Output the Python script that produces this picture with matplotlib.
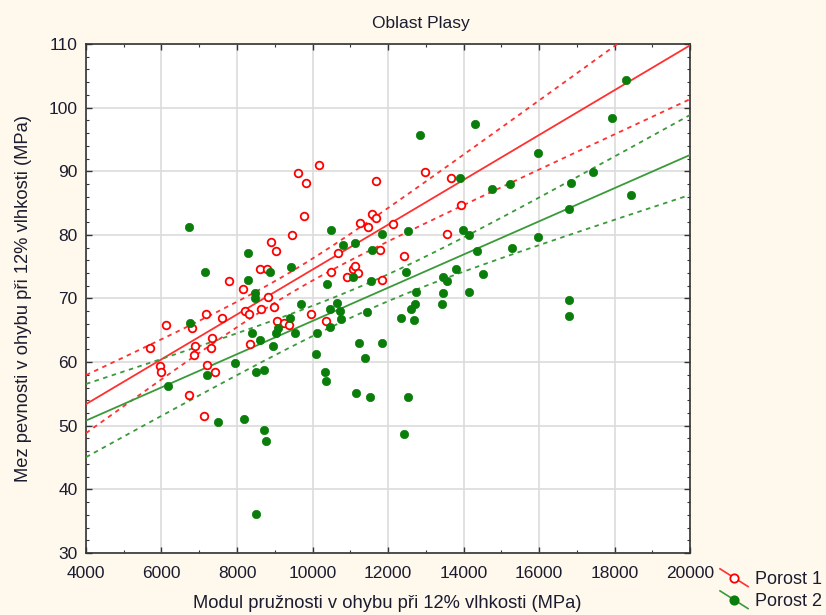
import numpy as np
import matplotlib
matplotlib.use("Agg")
import matplotlib.pyplot as plt
from matplotlib.lines import Line2D
from matplotlib.ticker import MultipleLocator

plt.rcParams['font.family'] = ['Liberation Sans', 'DejaVu Sans']

title = "Oblast Plasy"
xlabel = "Modul pružnosti v ohybu při 12% vlhkosti (MPa)"
ylabel = "Mez pevnosti v ohybu při 12% vlhkosti (MPa)"
series_names = ["Porost 1", "Porost 2"]

# Porost 1: modulus of elasticity (MPa), bending strength (MPa)
p1_x = [10162, 9608, 9837, 11674, 9766, 9449, 8895, 9027, 8605, 8790,
        7795, 10671, 10478, 11252, 11579, 11674, 11481, 11779, 11067, 11120,
        11209, 10901, 11843, 8156, 8808, 8209, 8322, 8631, 8982, 9053,
        9246, 9389, 9958, 10346, 8349, 7610, 7180, 6818, 6897, 6863,
        7338, 7312, 7206, 7409, 6116, 5694, 5958, 5984, 6723, 7119,
        12967, 13680, 13935, 12122, 13558, 12423]
p1_y = [91.0, 89.7, 88.1, 88.5, 83.0, 79.9, 78.9, 77.4, 74.7, 74.6,
        72.8, 77.2, 74.1, 81.8, 83.2, 82.6, 81.2, 77.6, 74.7, 75.1,
        74.0, 73.4, 72.9, 71.5, 70.3, 68.0, 67.6, 68.4, 68.6, 66.4,
        66.1, 65.9, 67.6, 66.4, 62.8, 67.0, 67.6, 65.3, 62.6, 61.1,
        63.8, 62.2, 59.6, 58.4, 65.9, 62.2, 59.4, 58.5, 54.9, 51.6,
        89.9, 89.0, 84.7, 81.7, 80.1, 76.7]

# Porost 2
p2_x = [6723, 7145, 8280, 8280, 8869, 9441, 10478, 10803, 11120, 11579,
        11843, 11067, 11560, 8465, 8481, 10391, 6757, 8395, 8605, 8966,
        9045, 9088, 9404, 9547, 9705, 10127, 10101, 10452, 10452, 10645,
        10716, 10742, 11447, 11225, 11843, 11384, 10320, 10354, 11157, 11516,
        7953, 7214, 6185, 8507, 8702, 7504, 8183, 8702, 8763, 8507,
        18298, 17920, 14305, 12845, 15986, 16846, 17437, 18440, 16786, 15986,
        13909, 14753, 15237, 13980, 14154, 12518, 14366, 15274, 12484, 13812,
        13452, 13558, 14525, 12740, 13461, 14154, 12703, 12616, 13426, 12352,
        12677, 16786, 16786, 12518, 12412]
p2_y = [81.3, 74.1, 77.2, 72.9, 74.1, 74.9, 80.8, 78.4, 78.7, 77.6,
        80.1, 73.4, 72.8, 70.8, 70.0, 72.3, 66.1, 64.5, 63.5, 62.6,
        64.6, 65.3, 67.0, 64.6, 69.1, 64.5, 61.2, 68.3, 65.5, 69.3,
        68.0, 66.8, 67.8, 63.0, 63.0, 60.7, 58.5, 57.0, 55.1, 54.5,
        59.9, 58.0, 56.3, 58.4, 58.7, 50.6, 51.0, 49.3, 47.6, 36.2,
        104.3, 98.3, 97.4, 95.7, 92.8, 88.2, 89.9, 86.2, 84.1, 79.7,
        88.9, 87.2, 88.0, 80.8, 79.9, 80.6, 77.4, 78.0, 74.2, 74.7,
        73.4, 72.8, 73.8, 71.0, 70.8, 71.0, 69.1, 68.3, 69.1, 67.0,
        66.6, 69.7, 67.2, 54.5, 48.7]

x_ticks = [4000, 6000, 8000, 10000, 12000, 14000, 16000, 18000, 20000]
y_ticks = [30, 40, 50, 60, 70, 80, 90, 100, 110]

red_pt = "#ff0000"
red_ln = "#ff3030"
green_pt = "#0a7d0a"
green_ln = "#3a9a3a"
bg = "#fff8ec"
txt = "#1c1c30"


def t975(df):
    z = 1.959964
    return (z + (z**3 + z) / (4 * df) + (5 * z**5 + 16 * z**3 + 3 * z) / (96 * df**2))


def fit_with_band(x, y, xs):
    x = np.asarray(x, float)
    y = np.asarray(y, float)
    n = len(x)
    b, a = np.polyfit(x, y, 1)
    resid = y - (a + b * x)
    s = np.sqrt(np.sum(resid**2) / (n - 2))
    sxx = np.sum((x - x.mean())**2)
    yhat = a + b * xs
    half = t975(n - 2) * s * np.sqrt(1.0 / n + (xs - x.mean())**2 / sxx)
    return yhat, yhat - half, yhat + half


fig = plt.figure(figsize=(8.26, 6.15), dpi=100, facecolor=bg)
ax = fig.add_axes([0.1041, 0.1008, 0.7313, 0.8277])
ax.set_facecolor("white")

xs = np.linspace(x_ticks[0], x_ticks[-1], 300)
for xd, yd, lc in [(p1_x, p1_y, red_ln), (p2_x, p2_y, green_ln)]:
    yhat, lo, hi = fit_with_band(xd, yd, xs)
    ax.plot(xs, yhat, color=lc, lw=1.3, zorder=3)
    ax.plot(xs, lo, color=lc, lw=1.3, ls=(0, (2.5, 2.5)), zorder=3)
    ax.plot(xs, hi, color=lc, lw=1.3, ls=(0, (2.5, 2.5)), zorder=3)

ax.scatter(p1_x, p1_y, s=30, facecolors="white", edgecolors=red_pt,
           linewidths=1.3, zorder=4)
ax.scatter(p2_x, p2_y, s=36, color=green_pt, edgecolors=green_pt,
           linewidths=0.5, zorder=5)

ax.set_xlim(x_ticks[0], x_ticks[-1])
ax.set_ylim(y_ticks[0], y_ticks[-1])
ax.set_xticks(x_ticks)
ax.set_yticks(y_ticks)
ax.xaxis.set_minor_locator(MultipleLocator(1000))
ax.yaxis.set_minor_locator(MultipleLocator(2))
ax.grid(True, which="major", color="#dcdcdc", lw=1.2, zorder=0)
ax.set_axisbelow(True)
ax.tick_params(which="both", direction="in", top=True, right=True,
               colors="#333333", labelcolor=txt, labelsize=12.5)
ax.tick_params(which="major", length=4, width=1)
ax.tick_params(which="minor", length=2.5, width=0.8)
ax.tick_params(axis="x", which="major", pad=9)
ax.tick_params(axis="y", which="major", pad=6)
for sp in ax.spines.values():
    sp.set_color("#333333")
    sp.set_linewidth(1.2)

fig.text(0.51, 0.962, title, ha="center", va="center", fontsize=12.5, color=txt)
fig.text(0.469, 0.019, xlabel, ha="center", va="center", fontsize=13.2, color=txt)
fig.text(0.029, 0.515, ylabel, ha="center", va="center", rotation=90,
         fontsize=13.2, color=txt)


class DiagonalHandler:
    def __init__(self, color, mface, medge):
        self.color = color
        self.mface = mface
        self.medge = medge

    def legend_artist(self, legend, orig_handle, fontsize, handlebox):
        x0, y0 = handlebox.xdescent, handlebox.ydescent
        w, h = handlebox.width, handlebox.height
        ln = Line2D([x0, x0 + w], [y0 + h * 1.2, y0 - h * 0.2],
                    color=self.color, lw=1.2, transform=handlebox.get_transform())
        mk = Line2D([x0 + w / 2], [y0 + h / 2], marker="o", ms=6,
                    mfc=self.mface, mec=self.medge, mew=1.3, ls="none",
                    transform=handlebox.get_transform())
        handlebox.add_artist(ln)
        handlebox.add_artist(mk)
        return ln


h1 = Line2D([], [])
h2 = Line2D([], [])
fig.legend([h1, h2], series_names,
           handler_map={h1: DiagonalHandler(red_ln, "white", red_pt),
                        h2: DiagonalHandler(green_ln, green_pt, green_pt)},
           loc="center left", bbox_to_anchor=(0.8717, 0.0398),
           frameon=False, fontsize=13, handlelength=1.55,
           handletextpad=0.4, labelspacing=0.28, borderaxespad=0,
           borderpad=0, labelcolor=txt)

fig.savefig("out.png", dpi=100, facecolor=bg)
